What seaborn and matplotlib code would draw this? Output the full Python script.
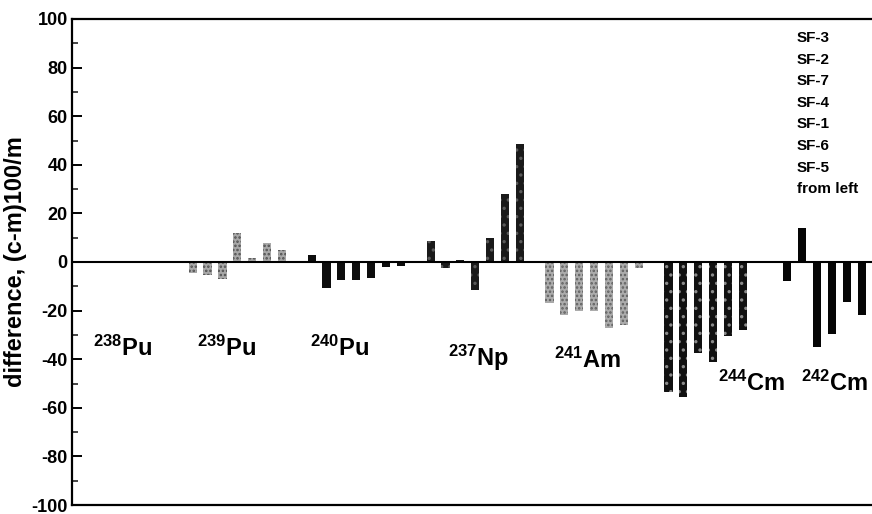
import numpy as np
import pandas as pd
import matplotlib
matplotlib.use("Agg")
import matplotlib.pyplot as plt
import seaborn as sns

# ---- data ----
groups = ["238Pu", "239Pu", "240Pu", "237Np", "241Am", "244Cm", "242Cm"]
group_labels = [r"$^{238}$Pu", r"$^{239}$Pu", r"$^{240}$Pu", r"$^{237}$Np",
                r"$^{241}$Am", r"$^{244}$Cm", r"$^{242}$Cm"]
series = ["SF-3", "SF-2", "SF-7", "SF-4", "SF-1", "SF-6", "SF-5"]
v_238Pu = [0, 0, 0, 0, 0, 0, 0]
v_239Pu = [-4.5, -5.5, -7, 12, 1.5, 8, 5]
v_240Pu = [3, -10.5, -7.5, -7.5, -6.5, -2, -1.5]
v_237Np = [8.5, -2.5, 0.8, -11.5, 10, 28, 48.5]
v_241Am = [-17, -22, -20, -20, -27, -26, -2.5]
v_244Cm = [-53.5, -55.5, -37.5, -41, -30.5, -28, 0]
v_242Cm = [-8, 14, -35, -29.5, -16.5, -22, np.nan]
values = [v_238Pu, v_239Pu, v_240Pu, v_237Np, v_241Am, v_244Cm, v_242Cm]
legend_lines = series + ["from left"]

# ---- style ----
sns.set_theme(style="white")
plt.rcParams["font.family"] = ["Liberation Sans", "DejaVu Sans"]
plt.rcParams["font.weight"] = "bold"
plt.rcParams["axes.unicode_minus"] = False
plt.rcParams["mathtext.fontset"] = "custom"
plt.rcParams["mathtext.rm"] = "Liberation Sans:bold"
plt.rcParams["mathtext.it"] = "Liberation Sans:bold"
plt.rcParams["mathtext.bf"] = "Liberation Sans:bold"
plt.rcParams["hatch.linewidth"] = 1.2

styles = {
    "238Pu": dict(fc="#1a1a1a", ec="#1a1a1a", hatch=None),
    "239Pu": dict(fc="#a8a8a8", ec="#505050", hatch="...."),
    "240Pu": dict(fc="#0d0d0d", ec="#0d0d0d", hatch=None),
    "237Np": dict(fc="#1a1a1a", ec="#5a5a5a", hatch=".."),
    "241Am": dict(fc="#acacac", ec="#606060", hatch="...."),
    "244Cm": dict(fc="#111111", ec="#8a8a8a", hatch=".."),
    "242Cm": dict(fc="#050505", ec="#050505", hatch=None),
}

W, H = 872, 514
left_px, right_px, top_px, bot_px = 72, 872, 19, 505
fig = plt.figure(figsize=(W / 100, H / 100), dpi=100)
ax = fig.add_axes([left_px / W, 1 - bot_px / H, (right_px - left_px) / W,
                   (bot_px - top_px) / H])

slots_per_group = 8
for g, (name, vals) in enumerate(zip(groups, values)):
    df = pd.DataFrame({"pos": [g * slots_per_group + j for j in range(len(vals))],
                       "val": vals})
    before = len(ax.patches)
    sns.barplot(data=df, x="pos", y="val", native_scale=True, width=0.55,
                color=styles[name]["fc"], ax=ax, errorbar=None, saturation=1)
    for p in ax.patches[before:]:
        p.set_facecolor(styles[name]["fc"])
        p.set_edgecolor(styles[name]["ec"])
        p.set_linewidth(0)
        if styles[name]["hatch"]:
            p.set_hatch(styles[name]["hatch"])

ax.axhline(0, color="black", lw=1.5, zorder=5)

ax.set_xlim(-0.12, 53.69)
ax.set_ylim(-100, 100)
ax.set_yticks(np.arange(-100, 101, 20))
ax.set_yticks(np.arange(-90, 100, 20), minor=True)
ax.set_xticks([])
ax.tick_params(axis="y", which="major", direction="in", length=7, width=1.4,
               left=True, labelsize=13, pad=3, colors="black")
ax.tick_params(axis="y", which="minor", direction="in", length=4, width=1.2, left=True)
for lab in ax.get_yticklabels():
    lab.set_fontweight("bold")
for s in ax.spines.values():
    s.set_color("black")
    s.set_linewidth(1.6)
ax.spines["right"].set_visible(False)
ax.set_xlabel("")
ax.set_ylabel("difference, (c-m)100/m", fontsize=17, fontweight="bold",
              color="black", labelpad=3)

# isotope labels (x in data slot units, y in data units)
label_pos = [(1.3, -35.5), (8.3, -35.5), (15.9, -35.5), (25.2, -39.5),
             (32.3, -40.5), (43.3, -50), (48.9, -50)]
for (x, y), txt in zip(label_pos, group_labels):
    ax.text(x, y, txt, fontsize=17, fontweight="bold", ha="left", va="center",
            color="black")

# series order note
for i, t in enumerate(legend_lines):
    ax.text(0.906, 0.961 - i * 0.0445, t, transform=ax.transAxes,
            fontsize=11, fontweight="bold", ha="left", va="center", color="black")

fig.savefig("out.png", dpi=100)
